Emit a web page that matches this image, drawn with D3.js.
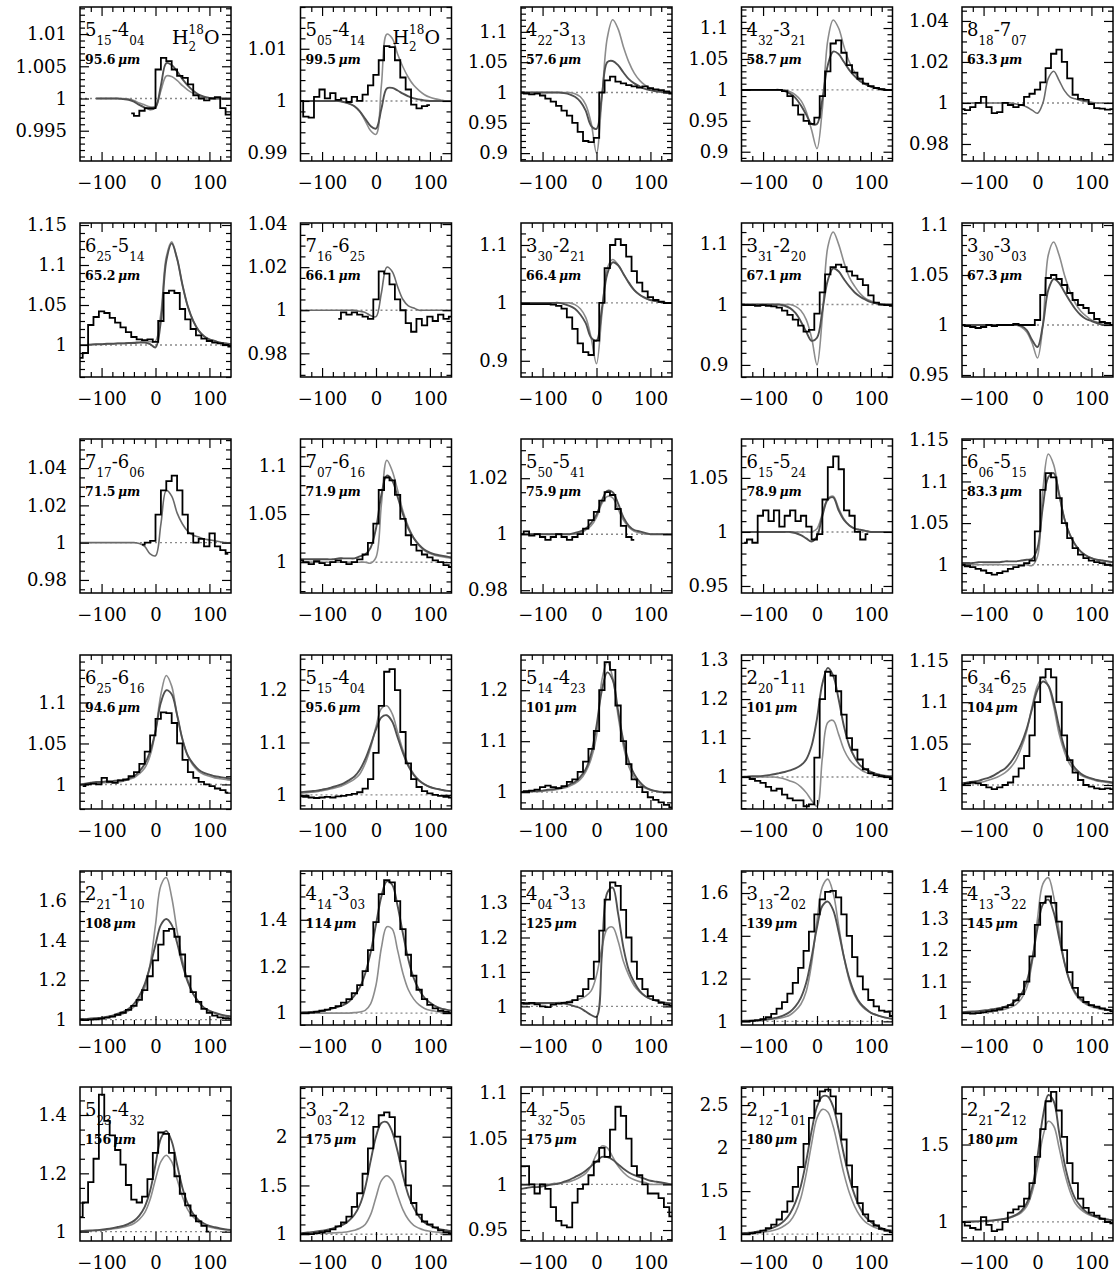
<!DOCTYPE html>
<html lang="en">
<head>
<meta charset="UTF-8">
<title>Water line profiles</title>
<script src="https://cdnjs.cloudflare.com/ajax/libs/d3/7.8.5/d3.min.js"></script>
<style>
    body { margin: 0; background: #fff; }
    svg { display: block; }
</style>
</head>
<body>
<svg id="chart" width="1115" height="1273"></svg>
<script>
// ---- data -------------------------------------------------------------
// velocity grid (km/s) on which the two model profiles are read
var velocities = [-140, -130, -120, -110, -100, -90, -80, -70, -60, -50, -40, -30, -20, -10,
    0, 10, 20, 30, 40, 50, 60, 70, 80, 90, 100, 110, 120, 130, 140];

var upperJ = ["5", "5", "4", "4", "8", "6", "7", "3", "3", "3", "7", "7", "5", "6", "6",
    "6", "5", "5", "2", "6", "2", "4", "4", "3", "4", "5", "3", "4", "2", "2"];
var upperK = ["15", "05", "22", "32", "18", "25", "16", "30", "31", "30", "17", "07", "50", "15", "06",
    "25", "15", "14", "20", "34", "21", "14", "04", "13", "13", "23", "03", "32", "12", "21"];
var lowerJ = ["4", "4", "3", "3", "7", "5", "6", "2", "2", "3", "6", "6", "5", "5", "5",
    "6", "4", "4", "1", "6", "1", "3", "3", "2", "3", "4", "2", "5", "1", "2"];
var lowerK = ["04", "14", "13", "21", "07", "14", "25", "21", "20", "03", "06", "16", "41", "24", "15",
    "16", "04", "23", "11", "25", "10", "03", "13", "02", "22", "32", "12", "05", "01", "12"];
var wavelengths = ["95.6", "99.5", "57.6", "58.7", "63.3", "65.2", "66.1", "66.4", "67.1", "67.3",
    "71.5", "71.9", "75.9", "78.9", "83.3", "94.6", "95.6", "101", "101", "104",
    "108", "114", "125", "139", "145", "156", "175", "175", "180", "180"];
var isotopologuePanels = [0, 1];   // H2-18O lines

var yDomains = [
    [0.9903, 1.0142], [0.9885, 1.018], [0.887, 1.141], [0.885, 1.134], [0.9717, 1.0468],
    [0.96, 1.1525], [0.969, 1.0405], [0.872, 1.138], [0.88, 1.135], [0.948, 1.102],
    [0.973, 1.0556], [0.968, 1.128], [0.979, 1.034], [0.9435, 1.086], [0.966, 1.151],
    [0.97, 1.158], [0.973, 1.267], [0.967, 1.269], [0.918, 1.313], [0.971, 1.157],
    [0.973, 1.753], [0.949, 1.609], [0.946, 1.393], [0.983, 1.703], [0.962, 1.451],
    [0.968, 1.496], [0.93, 2.51], [0.938, 1.1066], [0.92, 2.71], [0.876, 1.872]
];
var yTickLabels = [
    [0.995, 1, 1.005, 1.01], [0.99, 1, 1.01], [0.9, 0.95, 1, 1.05, 1.1], [0.9, 0.95, 1, 1.05, 1.1], [0.98, 1, 1.02, 1.04],
    [1, 1.05, 1.1, 1.15], [0.98, 1, 1.02, 1.04], [0.9, 1, 1.1], [0.9, 1, 1.1], [0.95, 1, 1.05, 1.1],
    [0.98, 1, 1.02, 1.04], [1, 1.05, 1.1], [0.98, 1, 1.02], [0.95, 1, 1.05], [1, 1.05, 1.1, 1.15],
    [1, 1.05, 1.1], [1, 1.1, 1.2], [1, 1.1, 1.2], [1, 1.1, 1.2, 1.3], [1, 1.05, 1.1, 1.15],
    [1, 1.2, 1.4, 1.6], [1, 1.2, 1.4], [1, 1.1, 1.2, 1.3], [1, 1.2, 1.4, 1.6], [1, 1.1, 1.2, 1.3, 1.4],
    [1, 1.2, 1.4], [1, 1.5, 2], [0.95, 1, 1.05, 1.1], [1, 1.5, 2, 2.5], [1, 1.5]
];
var yMinorSteps = [0.001, 0.002, 0.01, 0.01, 0.005, 0.01, 0.005, 0.02, 0.02, 0.01,
    0.005, 0.01, 0.005, 0.01, 0.01, 0.01, 0.02, 0.02, 0.02, 0.01,
    0.05, 0.05, 0.02, 0.05, 0.02, 0.05, 0.1, 0.01, 0.1, 0.1];
var xTickLabels = [-100, 0, 100];
var xMinorTicks = [-120, -80, -60, -40, -20, 20, 40, 60, 80, 120];

// model 1 (dark grey), on the velocity grid
var modelA = [
    [null, null, null, 1.0, 1.0, 1.0, 1.0, 1.0, 0.9999, 0.9998, 0.9995, 0.999, 0.9986, 0.9983, 0.9986, 1.002, 1.0055, 1.0052, 1.0042, 1.003, 1.002, 1.0012, 1.0006, 1.0003, 1.0001, 1.0, 1.0, 1.0, 1.0],
    [1.0, 1.0, 1.0, 1.0, 1.0, 1.0, 1.0, 1.0, 0.9998, 0.9995, 0.999, 0.998, 0.9966, 0.9952, 0.9947, 0.9985, 1.0024, 1.0025, 1.002, 1.0014, 1.0009, 1.0005, 1.0003, 1.0001, 1.0, 1.0, 1.0, 1.0, 1.0],
    [1.0, 1.0, 1.0, 1.0, 1.0, 1.0, 1.0, 1.0, 0.999, 0.997, 0.993, 0.985, 0.97, 0.945, 0.94, 0.995, 1.05, 1.052, 1.045, 1.033, 1.022, 1.015, 1.01, 1.006, 1.004, 1.002, 1.001, 1.0, 1.0],
    [1.0, 1.0, 1.0, 1.0, 1.0, 1.0, 1.0, 1.0, 0.998, 0.994, 0.987, 0.975, 0.96, 0.945, 0.945, 0.985, 1.04, 1.062, 1.058, 1.045, 1.032, 1.022, 1.014, 1.009, 1.005, 1.003, 1.001, 1.0, 1.0],
    null,
    [1.0, 1.0, 1.0005, 1.001, 1.001, 1.0015, 1.0015, 1.002, 1.002, 1.0025, 1.0025, 1.003, 1.003, 1.001, 0.997, 1.03, 1.105, 1.127, 1.108, 1.075, 1.048, 1.03, 1.018, 1.011, 1.007, 1.005, 1.003, 1.002, 1.001],
    null,
    [1.0, 1.0, 1.0, 1.0, 1.0, 1.0, 1.0, 1.0, 0.998, 0.995, 0.99, 0.98, 0.965, 0.94, 0.935, 0.99, 1.05, 1.07, 1.065, 1.05, 1.035, 1.022, 1.014, 1.009, 1.005, 1.003, 1.001, 1.0, 1.0],
    [1.0, 1.0, 1.0, 1.0, 1.0, 1.0, 1.0, 1.0, 0.998, 0.994, 0.986, 0.972, 0.955, 0.94, 0.945, 0.99, 1.04, 1.06, 1.055, 1.042, 1.03, 1.02, 1.013, 1.008, 1.004, 1.002, 1.0, 1.0, 1.0],
    [1.0, 1.0, 1.0, 1.0, 1.0, 1.0, 1.0, 1.0, 1.0, 1.0, 1.0, 0.999, 0.995, 0.985, 0.978, 1.0, 1.035, 1.046, 1.042, 1.033, 1.024, 1.016, 1.01, 1.006, 1.004, 1.002, 1.0, 1.0, 1.0],
    null,
    [1.003, 1.003, 1.003, 1.003, 1.003, 1.003, 1.003, 1.004, 1.004, 1.004, 1.004, 1.006, 1.008, 1.015, 1.035, 1.07, 1.09, 1.085, 1.068, 1.05, 1.035, 1.025, 1.018, 1.013, 1.01, 1.008, 1.007, 1.006, 1.005],
    [1.0, 1.0, 1.0, 1.0, 1.0, 1.0, 1.0, 1.0, 1.0, 1.0, 1.0005, 1.001, 1.002, 1.004, 1.007, 1.012, 1.0155, 1.015, 1.011, 1.006, 1.003, 1.0015, 1.001, 1.0005, 1.0, 1.0, 1.0, 1.0, 1.0],
    [1.0, 1.0, 1.0, 1.0, 1.0, 1.0, 1.0, 1.0, 1.0, 1.0, 0.999, 0.997, 0.994, 0.991, 0.996, 1.015, 1.03, 1.032, 1.02, 1.011, 1.006, 1.003, 1.002, 1.001, 1.0, 1.0, 1.0, 1.0, 1.0],
    [1.002, 1.002, 1.002, 1.003, 1.003, 1.003, 1.003, 1.003, 1.004, 1.004, 1.004, 1.005, 1.006, 1.007, 1.02, 1.07, 1.105, 1.11, 1.085, 1.055, 1.036, 1.024, 1.016, 1.011, 1.008, 1.006, 1.005, 1.004, 1.003],
    [1.0, 1.001, 1.002, 1.003, 1.003, 1.004, 1.004, 1.005, 1.005, 1.007, 1.01, 1.016, 1.025, 1.04, 1.065, 1.1, 1.115, 1.11, 1.085, 1.055, 1.035, 1.025, 1.018, 1.014, 1.012, 1.01, 1.009, 1.008, 1.007],
    [1.005, 1.006, 1.007, 1.008, 1.01, 1.012, 1.015, 1.018, 1.022, 1.028, 1.035, 1.048, 1.068, 1.095, 1.125, 1.148, 1.152, 1.14, 1.11, 1.08, 1.055, 1.038, 1.027, 1.02, 1.015, 1.012, 1.01, 1.008, 1.007],
    [1.0, 1.001, 1.002, 1.002, 1.003, 1.005, 1.006, 1.008, 1.01, 1.015, 1.02, 1.03, 1.045, 1.075, 1.13, 1.2, 1.235, 1.22, 1.16, 1.1, 1.06, 1.035, 1.02, 1.01, 1.005, 1.002, 1.0, 1.0, 1.0],
    [1.0, 1.001, 1.002, 1.002, 1.003, 1.005, 1.007, 1.01, 1.013, 1.017, 1.022, 1.03, 1.045, 1.08, 1.15, 1.24, 1.28, 1.26, 1.2, 1.13, 1.08, 1.05, 1.03, 1.02, 1.013, 1.008, 1.005, 1.003, 1.002],
    [1.002, 1.003, 1.004, 1.005, 1.007, 1.009, 1.012, 1.016, 1.02, 1.027, 1.037, 1.05, 1.068, 1.092, 1.115, 1.125, 1.12, 1.1, 1.07, 1.045, 1.03, 1.02, 1.014, 1.01, 1.008, 1.006, 1.005, 1.004, 1.003],
    [1.003, 1.004, 1.006, 1.008, 1.01, 1.015, 1.02, 1.03, 1.04, 1.055, 1.08, 1.12, 1.18, 1.27, 1.38, 1.48, 1.51, 1.48, 1.39, 1.28, 1.19, 1.13, 1.09, 1.06, 1.045, 1.035, 1.027, 1.02, 1.016],
    [1.003, 1.004, 1.005, 1.007, 1.01, 1.014, 1.02, 1.027, 1.035, 1.05, 1.075, 1.11, 1.17, 1.26, 1.38, 1.5, 1.565, 1.55, 1.46, 1.34, 1.23, 1.15, 1.1, 1.065, 1.045, 1.03, 1.02, 1.015, 1.01],
    [1.01, 1.01, 1.01, 1.01, 1.01, 1.01, 1.01, 1.009, 1.008, 1.005, 1.0, 0.995, 0.985, 0.975, 0.97, 1.15, 1.33, 1.345, 1.27, 1.17, 1.105, 1.07, 1.045, 1.03, 1.022, 1.017, 1.013, 1.01, 1.008],
    [1.002, 1.003, 1.004, 1.006, 1.008, 1.011, 1.015, 1.021, 1.03, 1.045, 1.07, 1.11, 1.18, 1.3, 1.44, 1.54, 1.56, 1.52, 1.42, 1.3, 1.2, 1.13, 1.085, 1.06, 1.04, 1.03, 1.022, 1.016, 1.012],
    [1.003, 1.004, 1.005, 1.006, 1.008, 1.01, 1.013, 1.016, 1.02, 1.027, 1.04, 1.06, 1.1, 1.17, 1.27, 1.345, 1.36, 1.32, 1.24, 1.16, 1.1, 1.065, 1.045, 1.032, 1.024, 1.018, 1.014, 1.011, 1.009],
    [1.002, 1.003, 1.004, 1.005, 1.007, 1.009, 1.012, 1.016, 1.02, 1.027, 1.037, 1.055, 1.085, 1.14, 1.23, 1.32, 1.345, 1.31, 1.23, 1.15, 1.095, 1.06, 1.04, 1.028, 1.02, 1.015, 1.011, 1.008, 1.006],
    [1.01, 1.015, 1.02, 1.027, 1.035, 1.045, 1.06, 1.08, 1.1, 1.14, 1.2, 1.3, 1.48, 1.75, 2.0, 2.14, 2.15, 2.05, 1.85, 1.6, 1.4, 1.27, 1.18, 1.12, 1.09, 1.065, 1.05, 1.04, 1.03],
    [0.995, 0.996, 0.997, 0.997, 0.998, 0.999, 1.0, 1.001, 1.003, 1.005, 1.008, 1.011, 1.015, 1.02, 1.025, 1.03, 1.03, 1.027, 1.022, 1.017, 1.013, 1.01, 1.008, 1.006, 1.004, 1.003, 1.002, 1.001, 1.0],
    [1.01, 1.015, 1.02, 1.03, 1.04, 1.055, 1.08, 1.11, 1.16, 1.24, 1.37, 1.56, 1.85, 2.2, 2.48, 2.6, 2.6, 2.48, 2.22, 1.92, 1.65, 1.45, 1.3, 1.2, 1.14, 1.1, 1.07, 1.05, 1.04],
    [1.0, 1.001, 1.002, 1.003, 1.005, 1.007, 1.01, 1.015, 1.02, 1.03, 1.045, 1.07, 1.12, 1.22, 1.42, 1.68, 1.82, 1.78, 1.58, 1.38, 1.24, 1.15, 1.1, 1.065, 1.045, 1.03, 1.02, 1.015, 1.01]
];

// model 2 (light grey), on the velocity grid
var modelB = [
    [null, null, null, 1.0, 1.0, 1.0, 1.0, 1.0, 1.0, 0.9999, 0.9997, 0.9993, 0.999, 0.9987, 0.9988, 1.0012, 1.0035, 1.0034, 1.0028, 1.002, 1.0013, 1.0008, 1.0004, 1.0002, 1.0001, 1.0, 1.0, 1.0, 1.0],
    [1.0, 1.0, 1.0, 1.0, 1.0, 1.0, 1.0, 1.0, 0.9998, 0.9995, 0.999, 0.998, 0.9962, 0.9943, 0.9936, 1.003, 1.0128, 1.012, 1.009, 1.0065, 1.0045, 1.003, 1.002, 1.0012, 1.0007, 1.0004, 1.0002, 1.0, 1.0],
    [1.0, 1.0, 1.0, 1.0, 1.0, 1.0, 1.0, 1.0, 1.0, 1.0, 0.998, 0.993, 0.98, 0.95, 0.9, 0.99, 1.09, 1.12, 1.105, 1.075, 1.05, 1.032, 1.02, 1.012, 1.007, 1.004, 1.002, 1.001, 1.0],
    [1.0, 1.0, 1.0, 1.0, 1.0, 1.0, 1.0, 1.0, 1.0, 0.997, 0.992, 0.983, 0.965, 0.935, 0.905, 0.97, 1.08, 1.113, 1.1, 1.07, 1.045, 1.028, 1.017, 1.01, 1.006, 1.003, 1.001, 1.0, 1.0],
    [1.0, 1.0, 1.0, 1.0, 1.0, 1.0, 1.0, 1.0, 1.0, 1.0, 0.9995, 0.999, 0.998, 0.9965, 0.995, 1.0, 1.012, 1.0155, 1.011, 1.006, 1.003, 1.002, 1.0012, 1.0007, 1.0003, 1.0, 1.0, 1.0, 1.0],
    [1.0, 1.0, 1.0005, 1.001, 1.001, 1.0015, 1.0015, 1.002, 1.002, 1.0025, 1.003, 1.0035, 1.004, 1.004, 1.005, 1.04, 1.11, 1.129, 1.108, 1.075, 1.048, 1.03, 1.018, 1.011, 1.007, 1.005, 1.003, 1.002, 1.001],
    [1.0, 1.0, 1.0, 1.0, 1.0, 1.0, 1.0, 1.0, 1.0, 1.0, 1.0, 0.9995, 0.999, 0.9975, 0.997, 1.008, 1.02, 1.018, 1.011, 1.005, 1.002, 1.001, 1.0, 1.0, 1.0, 1.0, 1.0, 1.0, 1.0],
    [1.0, 1.0, 1.0, 1.0, 1.0, 1.0, 1.0, 1.0, 1.0, 1.0, 0.997, 0.99, 0.975, 0.94, 0.895, 0.98, 1.06, 1.075, 1.066, 1.05, 1.034, 1.022, 1.014, 1.008, 1.005, 1.003, 1.001, 1.0, 1.0],
    [1.0, 1.0, 1.0, 1.0, 1.0, 1.0, 1.0, 1.0, 1.0, 1.0, 0.997, 0.99, 0.975, 0.945, 0.9, 0.98, 1.095, 1.12, 1.1, 1.07, 1.045, 1.03, 1.018, 1.01, 1.006, 1.003, 1.001, 1.0, 1.0],
    [1.0, 1.0, 1.0, 1.0, 1.0, 1.0, 1.0, 1.0, 1.0, 1.0, 1.0, 0.998, 0.993, 0.982, 0.967, 1.0, 1.07, 1.083, 1.07, 1.05, 1.034, 1.022, 1.014, 1.009, 1.005, 1.003, 1.001, 1.0, 1.0],
    [1.0, 1.0, 1.0, 1.0, 1.0, 1.0, 1.0, 1.0, 1.0, 1.0, 1.0, 0.9995, 0.998, 0.994, 0.993, 1.01, 1.028, 1.025, 1.016, 1.01, 1.006, 1.004, 1.003, 1.002, 1.0015, 1.001, 1.0005, 1.0, 1.0],
    [1.0, 1.0, 1.0, 1.0, 1.0, 1.0, 1.0, 1.0, 1.0, 1.0, 1.0, 1.0, 1.0, 0.999, 1.005, 1.06, 1.106, 1.095, 1.075, 1.053, 1.037, 1.025, 1.017, 1.012, 1.009, 1.007, 1.006, 1.005, 1.004],
    [1.0, 1.0, 1.0, 1.0, 1.0, 1.0, 1.0, 1.0, 1.0, 1.0, 1.0, 1.0005, 1.0015, 1.003, 1.006, 1.011, 1.0135, 1.013, 1.009, 1.005, 1.0025, 1.001, 1.0005, 1.0, 1.0, 1.0, 1.0, 1.0, 1.0],
    [1.0, 1.0, 1.0, 1.0, 1.0, 1.0, 1.0, 1.0, 1.0, 1.0, 1.0, 1.0, 1.0, 1.0, 1.003, 1.017, 1.031, 1.033, 1.022, 1.012, 1.006, 1.003, 1.002, 1.001, 1.0, 1.0, 1.0, 1.0, 1.0],
    [1.0, 1.0, 1.0, 1.0, 1.0, 1.0, 1.0, 1.0, 1.0, 1.0, 1.0, 1.0, 1.0, 0.999, 1.01, 1.09, 1.133, 1.12, 1.085, 1.055, 1.036, 1.024, 1.016, 1.011, 1.008, 1.006, 1.005, 1.004, 1.003],
    [1.0, 1.0, 1.001, 1.001, 1.002, 1.002, 1.003, 1.003, 1.004, 1.006, 1.008, 1.013, 1.02, 1.035, 1.065, 1.11, 1.133, 1.12, 1.085, 1.055, 1.035, 1.023, 1.016, 1.012, 1.01, 1.008, 1.007, 1.006, 1.005],
    [1.003, 1.004, 1.005, 1.006, 1.008, 1.01, 1.012, 1.015, 1.019, 1.024, 1.03, 1.04, 1.06, 1.09, 1.13, 1.165, 1.17, 1.155, 1.12, 1.085, 1.058, 1.04, 1.028, 1.02, 1.015, 1.012, 1.01, 1.008, 1.007],
    [1.0, 1.0, 1.001, 1.001, 1.002, 1.003, 1.004, 1.006, 1.008, 1.012, 1.017, 1.025, 1.04, 1.065, 1.11, 1.22, 1.255, 1.225, 1.15, 1.09, 1.05, 1.028, 1.015, 1.008, 1.004, 1.002, 1.001, 1.0, 1.0],
    [1.0, 1.0, 1.0, 1.0, 1.0, 1.0, 1.0, 0.998, 0.995, 0.99, 0.985, 0.975, 0.96, 0.94, 0.925, 1.05, 1.14, 1.145, 1.11, 1.07, 1.045, 1.03, 1.02, 1.012, 1.007, 1.004, 1.002, 1.001, 1.0],
    [1.0, 1.001, 1.002, 1.003, 1.004, 1.006, 1.008, 1.011, 1.015, 1.021, 1.03, 1.045, 1.065, 1.095, 1.12, 1.13, 1.12, 1.095, 1.062, 1.04, 1.025, 1.017, 1.012, 1.009, 1.007, 1.005, 1.004, 1.003, 1.002],
    [1.002, 1.003, 1.004, 1.006, 1.008, 1.011, 1.015, 1.022, 1.03, 1.045, 1.065, 1.1, 1.16, 1.28, 1.48, 1.68, 1.72, 1.62, 1.45, 1.3, 1.2, 1.13, 1.09, 1.06, 1.045, 1.033, 1.025, 1.02, 1.015],
    [1.0, 1.0, 1.0, 1.0, 1.0, 1.0, 1.0, 1.0, 1.0, 1.0, 1.002, 1.005, 1.012, 1.04, 1.12, 1.28, 1.37, 1.36, 1.27, 1.17, 1.1, 1.06, 1.035, 1.02, 1.012, 1.008, 1.005, 1.003, 1.002],
    [1.005, 1.006, 1.007, 1.007, 1.008, 1.009, 1.01, 1.011, 1.012, 1.015, 1.018, 1.022, 1.03, 1.045, 1.09, 1.17, 1.225, 1.23, 1.19, 1.13, 1.09, 1.06, 1.042, 1.03, 1.022, 1.017, 1.013, 1.01, 1.008],
    [1.001, 1.002, 1.003, 1.004, 1.006, 1.008, 1.011, 1.015, 1.02, 1.03, 1.05, 1.08, 1.14, 1.27, 1.47, 1.63, 1.665, 1.6, 1.45, 1.3, 1.19, 1.12, 1.08, 1.055, 1.04, 1.03, 1.022, 1.016, 1.012],
    [1.0, 1.001, 1.001, 1.002, 1.003, 1.004, 1.006, 1.009, 1.012, 1.018, 1.027, 1.045, 1.08, 1.16, 1.3, 1.41, 1.43, 1.37, 1.26, 1.16, 1.1, 1.06, 1.04, 1.028, 1.02, 1.015, 1.011, 1.009, 1.007],
    [1.001, 1.002, 1.003, 1.004, 1.005, 1.007, 1.009, 1.012, 1.015, 1.02, 1.028, 1.042, 1.065, 1.11, 1.18, 1.24, 1.262, 1.24, 1.18, 1.12, 1.075, 1.05, 1.033, 1.023, 1.016, 1.012, 1.009, 1.007, 1.005],
    [1.0, 1.002, 1.004, 1.006, 1.008, 1.01, 1.013, 1.016, 1.02, 1.028, 1.04, 1.06, 1.1, 1.2, 1.38, 1.55, 1.6, 1.55, 1.4, 1.25, 1.15, 1.09, 1.06, 1.04, 1.03, 1.022, 1.016, 1.012, 1.01],
    [1.0, 1.0, 1.0, 1.0, 1.0, 1.0, 1.001, 1.001, 1.002, 1.003, 1.005, 1.008, 1.012, 1.02, 1.033, 1.042, 1.04, 1.03, 1.02, 1.013, 1.008, 1.005, 1.003, 1.002, 1.0, 1.0, 1.0, 1.0, 1.0],
    [1.0, 1.005, 1.01, 1.015, 1.022, 1.03, 1.045, 1.065, 1.1, 1.15, 1.25, 1.42, 1.7, 2.05, 2.35, 2.45, 2.42, 2.25, 1.98, 1.7, 1.48, 1.32, 1.21, 1.14, 1.1, 1.07, 1.05, 1.035, 1.025],
    [1.0, 1.001, 1.002, 1.003, 1.004, 1.006, 1.009, 1.013, 1.018, 1.027, 1.04, 1.06, 1.1, 1.19, 1.35, 1.55, 1.65, 1.62, 1.48, 1.32, 1.2, 1.12, 1.08, 1.055, 1.04, 1.03, 1.02, 1.015, 1.01]
];

// observed spectra: first channel velocity (km/s), 10 km/s channels
var obsStart = [-45, -140, -140, -140, -140, -140, -70, -140, -140, -140,
    -25, -140, -140, -135, -140, -135, -140, -140, -140, -140,
    -140, -140, -140, -140, -140, -140, -140, -140, -140, -140];
var obsFlux = [
    [0.9977, 0.9973, 0.9981, 0.9985, 0.9985, 1.0045, 1.0063, 1.0058, 1.0045, 1.0035, 1.0032, 1.0022, 1.0005, 1.0, 0.9997, 1.0, 1.0002, 0.9985, 0.9975, 0.9978],
    [1.0, 0.997, 0.9968, 1.0008, 1.0022, 1.0005, 1.0015, 1.0002, 1.0005, 0.9998, 1.0008, 1.0, 1.0012, 1.003, 1.005, 1.0078, 1.0105, 1.0103, 1.0078, 1.0045, 1.0022, 0.9993, 0.9986, 0.999, 0.9992],
    [1.0, 0.998, 0.997, 0.998, 0.995, 0.99, 0.985, 0.978, 0.97, 0.962, 0.95, 0.935, 0.92, 0.918, 0.925, 1.0, 1.02, 1.026, 1.018, 1.015, 1.012, 1.01, 1.008, 1.01, 1.007, 1.005, 1.004, 1.002, 0.998],
    [1.0, 1.0, 1.0, 1.0, 1.0, 1.0, 1.0, 1.0, 0.998, 0.99, 0.975, 0.96, 0.95, 0.945, 0.955, 0.99, 1.03, 1.075, 1.08, 1.06, 1.04, 1.028, 1.018, 1.01, 1.006, 1.003, 1.001, 1.0, 1.0],
    [0.997, 0.9965, 0.998, 1.0, 1.003, 0.998, 0.995, 0.9955, 1.0, 0.999, 0.998, 0.999, 1.003, 1.0045, 1.0065, 1.01, 1.017, 1.024, 1.026, 1.02, 1.012, 1.004, 1.002, 1.0015, 0.9995, 0.9975, 0.9972, 0.9968, 0.997],
    [0.984, 0.99, 1.025, 1.035, 1.042, 1.04, 1.034, 1.028, 1.022, 1.016, 1.01, 1.007, 1.006, 1.007, 1.004, 1.03, 1.065, 1.068, 1.065, 1.045, 1.032, 1.02, 1.012, 1.008, 1.005, 1.003, 1.002, 1.0, 0.998],
    [0.996, 0.999, 0.998, 0.999, 0.998, 0.997, 0.996, 1.005, 1.018, 1.017, 1.012, 1.005, 1.0, 0.994, 0.99, 0.996, 0.993, 0.997, 0.995, 0.998, 0.996, 0.997],
    [0.998, 0.998, 0.998, 0.998, 0.998, 0.998, 0.997, 0.995, 0.99, 0.975, 0.955, 0.93, 0.915, 0.91, 0.935, 1.0, 1.06, 1.1, 1.11, 1.1, 1.08, 1.055, 1.035, 1.02, 1.01, 1.005, 1.002, 1.0, 1.0],
    [1.0, 0.999, 0.999, 0.998, 0.999, 0.998, 0.997, 0.995, 0.99, 0.983, 0.975, 0.965, 0.955, 0.958, 0.985, 1.02, 1.05, 1.062, 1.066, 1.062, 1.055, 1.048, 1.042, 1.032, 1.015, 1.003, 1.0, 0.999, 0.998],
    [1.0, 0.999, 0.998, 0.997, 0.998, 1.0, 0.999, 1.0, 1.0, 1.0, 1.001, 1.0, 1.0, 1.0, 1.005, 1.03, 1.047, 1.05, 1.046, 1.04, 1.032, 1.025, 1.02, 1.017, 1.012, 1.006, 1.003, 1.002, 1.0],
    [0.999, 1.0, 1.001, 1.015, 1.028, 1.033, 1.036, 1.028, 1.015, 1.005, 1.0, 1.002, 0.998, 1.005, 0.998, 0.996, 0.994],
    [1.002, 1.0, 0.998, 1.001, 0.999, 0.997, 1.0, 1.002, 1.0, 0.998, 1.0, 1.003, 1.008, 1.02, 1.04, 1.075, 1.088, 1.085, 1.07, 1.045, 1.028, 1.018, 1.012, 1.008, 1.005, 1.002, 1.0, 0.997, 0.995],
    [1.0, 1.001, 0.9995, 1.0, 0.999, 0.998, 0.999, 1.0, 0.999, 0.998, 0.999, 1.0, 1.002, 1.005, 1.008, 1.012, 1.015, 1.014, 1.009, 1.003, 0.999, 0.998],
    [0.99, 0.993, 0.99, 1.015, 1.02, 1.01, 1.02, 1.005, 1.015, 1.02, 1.01, 1.015, 1.005, 0.993, 0.998, 1.03, 1.06, 1.07, 1.058, 1.02, 1.015, 1.0, 0.993, 0.998],
    [1.0, 0.998, 0.997, 0.995, 0.993, 0.99, 0.988, 0.99, 0.992, 0.995, 0.997, 0.999, 1.002, 1.005, 1.04, 1.09, 1.11, 1.105, 1.08, 1.05, 1.032, 1.02, 1.012, 1.008, 1.005, 1.003, 1.002, 1.0, 0.999],
    [0.998, 1.0, 1.001, 1.0, 1.008, 1.003, 1.002, 1.005, 1.006, 1.01, 1.015, 1.025, 1.04, 1.06, 1.08, 1.088, 1.087, 1.075, 1.05, 1.03, 1.015, 1.008, 1.003, 1.0, 0.998, 0.995, 0.993, 0.99],
    [0.997, 0.996, 0.995, 0.994, 0.995, 0.996, 0.995, 0.997, 0.998, 1.0, 1.002, 1.005, 1.012, 1.03, 1.08, 1.17, 1.235, 1.24, 1.2, 1.12, 1.06, 1.03, 1.015, 1.007, 1.003, 1.0, 0.998, 0.996, 0.995],
    [1.0, 1.002, 1.003, 1.005, 1.01, 1.013, 1.01, 1.008, 1.012, 1.02, 1.025, 1.04, 1.06, 1.085, 1.12, 1.2, 1.255, 1.24, 1.17, 1.1, 1.055, 1.025, 1.01, 1.0, 0.99, 0.985, 0.98, 0.975, 0.97],
    [1.0, 1.0, 0.995, 0.99, 0.985, 0.975, 0.965, 0.97, 0.955, 0.945, 0.94, 0.94, 0.925, 0.93, 1.05, 1.2, 1.27, 1.26, 1.22, 1.16, 1.1, 1.07, 1.045, 1.02, 1.01, 1.005, 1.002, 1.0, 0.995],
    [1.0, 1.002, 1.003, 1.002, 1.0, 0.997, 0.995, 0.997, 1.0, 1.003, 1.01, 1.02, 1.035, 1.06, 1.1, 1.13, 1.14, 1.13, 1.1, 1.06, 1.03, 1.015, 1.006, 1.0, 0.998, 0.996, 0.995, 0.996, 0.995],
    [1.0, 0.998, 1.0, 1.002, 1.005, 1.01, 1.015, 1.025, 1.035, 1.05, 1.07, 1.1, 1.15, 1.22, 1.3, 1.38, 1.45, 1.46, 1.42, 1.33, 1.22, 1.14, 1.09, 1.055, 1.035, 1.02, 1.012, 1.008, 1.005],
    [1.0, 1.0, 1.002, 1.005, 1.01, 1.015, 1.022, 1.03, 1.045, 1.06, 1.085, 1.12, 1.18, 1.27, 1.39, 1.51, 1.57, 1.56, 1.48, 1.36, 1.25, 1.16, 1.1, 1.06, 1.035, 1.02, 1.01, 1.005, 1.0],
    [1.01, 1.008, 1.01, 1.006, 1.0, 0.998, 1.005, 1.008, 1.01, 1.012, 1.018, 1.03, 1.05, 1.08, 1.13, 1.22, 1.31, 1.36, 1.35, 1.28, 1.2, 1.13, 1.08, 1.05, 1.03, 1.018, 1.01, 1.005, 1.002],
    [1.0, 1.0, 1.002, 1.005, 1.01, 1.02, 1.035, 1.06, 1.09, 1.13, 1.18, 1.25, 1.33, 1.42, 1.5, 1.57, 1.605, 1.61, 1.58, 1.5, 1.4, 1.3, 1.21, 1.15, 1.1, 1.07, 1.05, 1.045, 1.025],
    [1.0, 1.0, 0.998, 1.0, 1.002, 1.005, 1.008, 1.012, 1.018, 1.025, 1.04, 1.06, 1.1, 1.18, 1.28, 1.35, 1.37, 1.35, 1.29, 1.2, 1.13, 1.08, 1.05, 1.035, 1.025, 1.02, 1.015, 1.01, 1.005],
    [1.05, 1.1, 1.17, 1.25, 1.47, 1.38, 1.33, 1.28, 1.23, 1.16, 1.11, 1.1, 1.12, 1.18, 1.27, 1.34, 1.335, 1.27, 1.19, 1.13, 1.09, 1.055, 1.035, 1.02, 1.0],
    [1.0, 1.005, 1.0, 1.01, 1.02, 1.03, 1.05, 1.08, 1.12, 1.18, 1.28, 1.42, 1.62, 1.88, 2.1, 2.22, 2.25, 2.2, 2.0, 1.75, 1.5, 1.32, 1.2, 1.13, 1.1, 1.07, 1.04, 1.02, 1.01],
    [1.02, 1.02, 1.0, 0.99, 1.0, 0.995, 0.975, 0.96, 0.955, 0.953, 0.98, 0.995, 1.0, 1.01, 1.025, 1.04, 1.03, 1.06, 1.085, 1.075, 1.05, 1.02, 1.01, 1.0, 0.99, 0.99, 0.985, 0.975, 0.965],
    [1.0, 1.0, 1.01, 1.02, 1.04, 1.07, 1.11, 1.17, 1.26, 1.38, 1.55, 1.78, 2.05, 2.35, 2.55, 2.66, 2.68, 2.6, 2.4, 2.1, 1.8, 1.55, 1.36, 1.23, 1.15, 1.1, 1.06, 1.04, 1.02],
    [1.0, 0.975, 0.96, 0.95, 1.03, 0.98, 0.94, 0.95, 1.0, 1.06, 1.08, 1.1, 1.15, 1.25, 1.42, 1.6, 1.78, 1.84, 1.72, 1.55, 1.38, 1.25, 1.15, 1.09, 1.06, 1.04, 1.02, 1.0, 0.99]
];

// ---- layout -------------------------------------------------------------
(function () {
    var svg = d3.select("#chart");
    var FONT = "'DejaVu Serif', 'Liberation Serif', serif";
    var panelW = 151, panelH = 154;
    var colLeft = function (c) { return 80 + c * 220.5; };
    var rowTop = function (r) { return 7 + r * 216; };

    var x = d3.scaleLinear().domain([-140, 140]).range([0, panelW]);

    var fmtX = function (d) { return d < 0 ? "\u2212" + (-d) : String(d); };
    var fmtY = function (d) { return String(+d.toFixed(4)); };

    function tidyAxis(g, withText) {
        g.select(".domain").remove();
        g.attr("font-family", FONT).attr("font-size", 18);
        g.selectAll("line").attr("stroke", "#000").attr("stroke-width", 1.2);
        g.selectAll("text").attr("fill", "#000");
        if (!withText) { g.selectAll("text").remove(); }
    }

    upperJ.forEach(function (_, p) {
        var col = p % 5, row = Math.floor(p / 5);
        var g = svg.append("g")
            .attr("transform", "translate(" + colLeft(col) + "," + rowTop(row) + ")");

        var y = d3.scaleLinear().domain(yDomains[p]).range([panelH, 0]);

        g.append("clipPath").attr("id", "clip" + p)
            .append("rect").attr("width", panelW).attr("height", panelH);

        var plot = g.append("g").attr("clip-path", "url(#clip" + p + ")");

        // continuum level
        plot.append("line")
            .attr("x1", x(-140)).attr("x2", x(140))
            .attr("y1", y(1)).attr("y2", y(1))
            .attr("stroke", "#8a8a8a")
            .attr("stroke-width", 1.4)
            .attr("stroke-dasharray", "2,3");

        var modelLine = d3.line()
            .defined(function (d) { return d[1] !== null; })
            .x(function (d) { return x(d[0]); })
            .y(function (d) { return y(d[1]); })
            .curve(d3.curveCatmullRom.alpha(0.5));

        if (modelB[p]) {
            plot.append("path")
                .datum(velocities.map(function (v, i) { return [v, modelB[p][i]]; }))
                .attr("fill", "none")
                .attr("stroke", modelA[p] ? "#8c8c8c" : "#6a6a6a")
                .attr("stroke-width", 1.6)
                .attr("d", modelLine);
        }
        if (modelA[p]) {
            plot.append("path")
                .datum(velocities.map(function (v, i) { return [v, modelA[p][i]]; }))
                .attr("fill", "none")
                .attr("stroke", "#505050")
                .attr("stroke-width", 1.9)
                .attr("d", modelLine);
        }

        var obsLine = d3.line()
            .x(function (d) { return x(d[0]); })
            .y(function (d) { return y(d[1]); })
            .curve(d3.curveStep);

        plot.append("path")
            .datum(obsFlux[p].map(function (f, i) { return [obsStart[p] + i * 10, f]; }))
            .attr("fill", "none")
            .attr("stroke", "#000")
            .attr("stroke-width", 1.8)
            .attr("stroke-linejoin", "miter")
            .attr("d", obsLine);

        // ticks on all four sides, pointing inwards
        var y0 = yDomains[p][0], y1 = yDomains[p][1], st = yMinorSteps[p];
        var minors = [];
        for (var k = Math.ceil(y0 / st - 1e-9); k * st <= y1 + 1e-9; k++) {
            var val = +(k * st).toFixed(5);
            var isMajor = yTickLabels[p].some(function (m) { return Math.abs(m - val) < st / 10; });
            if (!isMajor) { minors.push(val); }
        }

        g.append("g").attr("transform", "translate(0," + panelH + ")")
            .call(d3.axisBottom(x).tickValues(xTickLabels).tickFormat(fmtX)
                .tickSizeInner(-9).tickSizeOuter(0).tickPadding(15))
            .call(tidyAxis, true);
        g.append("g").attr("transform", "translate(0," + panelH + ")")
            .call(d3.axisBottom(x).tickValues(xMinorTicks).tickSizeInner(-5).tickSizeOuter(0))
            .call(tidyAxis, false);
        g.append("g")
            .call(d3.axisTop(x).tickValues(xTickLabels).tickSizeInner(-9).tickSizeOuter(0))
            .call(tidyAxis, false);
        g.append("g")
            .call(d3.axisTop(x).tickValues(xMinorTicks).tickSizeInner(-5).tickSizeOuter(0))
            .call(tidyAxis, false);

        g.append("g")
            .call(d3.axisLeft(y).tickValues(yTickLabels[p]).tickFormat(fmtY)
                .tickSizeInner(-9).tickSizeOuter(0).tickPadding(13))
            .call(tidyAxis, true);
        g.append("g")
            .call(d3.axisLeft(y).tickValues(minors).tickSizeInner(-5).tickSizeOuter(0))
            .call(tidyAxis, false);
        g.append("g").attr("transform", "translate(" + panelW + ",0)")
            .call(d3.axisRight(y).tickValues(yTickLabels[p]).tickSizeInner(-9).tickSizeOuter(0))
            .call(tidyAxis, false);
        g.append("g").attr("transform", "translate(" + panelW + ",0)")
            .call(d3.axisRight(y).tickValues(minors).tickSizeInner(-5).tickSizeOuter(0))
            .call(tidyAxis, false);

        g.append("rect")
            .attr("width", panelW).attr("height", panelH)
            .attr("fill", "none").attr("stroke", "#000").attr("stroke-width", 1.5);

        // transition label
        var lab = g.append("text")
            .attr("x", 5).attr("y", 29)
            .attr("font-family", FONT).attr("font-size", 18).attr("fill", "#000");
        lab.append("tspan").text(upperJ[p]);
        lab.append("tspan").attr("font-size", 12).attr("dy", 9).text(upperK[p]);
        lab.append("tspan").attr("dy", -9).text("-");
        lab.append("tspan").text(lowerJ[p]);
        lab.append("tspan").attr("font-size", 12).attr("dy", 9).text(lowerK[p]);

        var wl = g.append("text")
            .attr("x", 5).attr("y", 57)
            .attr("font-family", FONT).attr("font-size", 12.5)
            .attr("font-weight", "bold").attr("fill", "#000")
            .text(wavelengths[p] + "\u2009");
        wl.append("tspan").attr("font-style", "italic").text("\u03bcm");

        if (isotopologuePanels.indexOf(p) >= 0) {
            var iso = g.append("text")
                .attr("x", 92).attr("y", 37)
                .attr("font-family", FONT).attr("font-size", 19).attr("fill", "#000");
            iso.append("tspan").text("H");
            iso.append("tspan").attr("font-size", 12).attr("dy", 7).text("2");
            iso.append("tspan").attr("font-size", 12).attr("dx", -7.6).attr("dy", -17).text("18");
            iso.append("tspan").attr("dy", 10).text("O");
        }
    });
})();
</script>
</body>
</html>
